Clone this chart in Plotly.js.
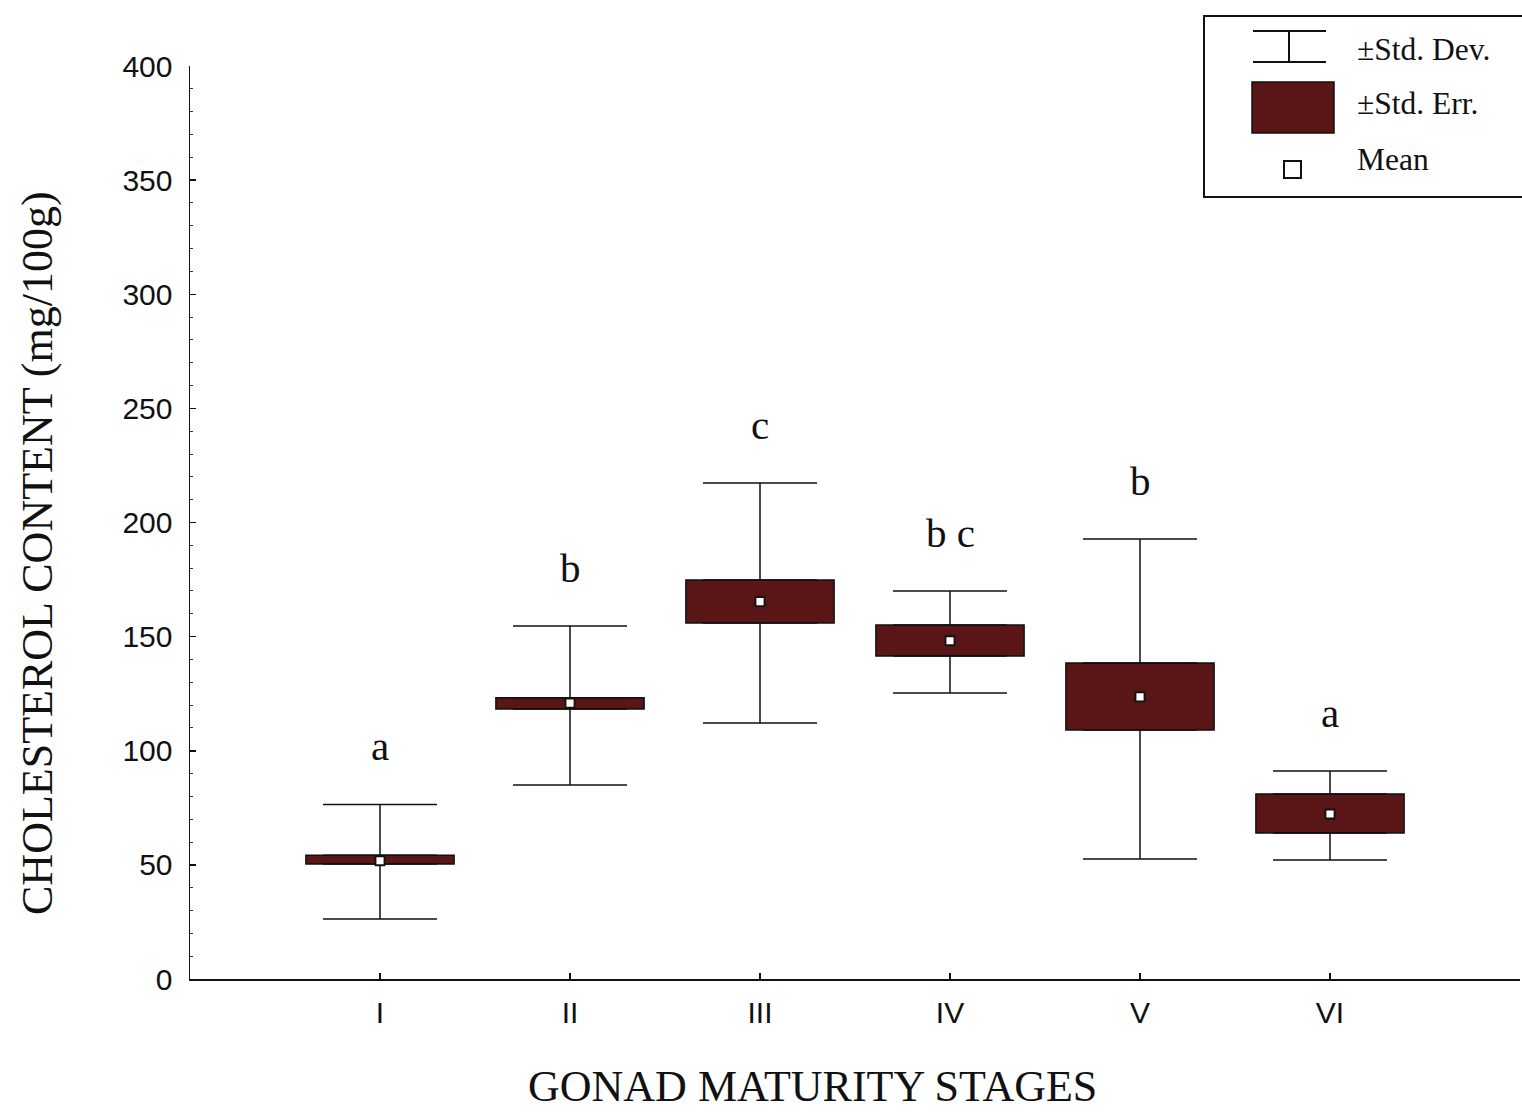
<!DOCTYPE html>
<html>
<head>
<meta charset="utf-8">
<script src="https://cdn.plot.ly/plotly-3.0.1.min.js"></script>
<style>
html,body{margin:0;padding:0;background:#fff;}
#chart{width:1522px;height:1112px;}
</style>
</head>
<body>
<div id="chart"></div>
<script>
// ---- data ----
var stages = ['I', 'II', 'III', 'IV', 'V', 'VI'];
var stagePos = [1, 2, 3, 4, 5, 6];
var means  = [51.8, 120.9, 165.3, 148.2, 123.6, 72.3];
var seLow  = [50.4, 118.3, 156.0, 141.5, 109.1, 64.0];
var seHigh = [54.2, 123.2, 174.8, 155.1, 138.4, 81.0];
var sdLow  = [26.3, 85.0, 112.2, 125.3, 52.6, 52.1];
var sdHigh = [76.5, 154.7, 217.3, 170.0, 192.8, 91.1];
var groupLetters = ['a', 'b', 'c', 'b c', 'b', 'a'];

var boxColor = '#5a1517';
var serif = 'Liberation Serif, Times New Roman, serif';
var sans = 'Liberation Sans, Arial, sans-serif';

var upperWhisker = {
  type: 'scatter', mode: 'markers', x: stagePos, y: seHigh,
  marker: {size: 1, opacity: 0}, hoverinfo: 'skip', showlegend: false,
  error_y: {type: 'data', symmetric: false,
    array: sdHigh.map(function(v, i){ return v - seHigh[i]; }),
    arrayminus: sdHigh.map(function(){ return 0; }),
    color: '#111', thickness: 1.5, width: 57}
};
var lowerWhisker = {
  type: 'scatter', mode: 'markers', x: stagePos, y: seLow,
  marker: {size: 1, opacity: 0}, hoverinfo: 'skip', showlegend: false,
  error_y: {type: 'data', symmetric: false,
    array: sdLow.map(function(){ return 0; }),
    arrayminus: sdLow.map(function(v, i){ return seLow[i] - v; }),
    color: '#111', thickness: 1.5, width: 57}
};
var seBoxes = {
  type: 'bar', x: stagePos, base: seLow,
  y: seHigh.map(function(v, i){ return v - seLow[i]; }),
  width: 0.78, marker: {color: boxColor, line: {color: '#111', width: 1.5}},
  hoverinfo: 'skip', showlegend: false
};
var meanPts = {
  type: 'scatter', mode: 'markers', x: stagePos, y: means,
  marker: {symbol: 'square', size: 9, color: '#fff', line: {color: '#111', width: 1.8}},
  showlegend: false
};

var annotations = [];
for (var i = 0; i < stages.length; i++) {
  annotations.push({
    x: stagePos[i], y: sdHigh[i], xref: 'x', yref: 'y',
    text: groupLetters[i], showarrow: false, yanchor: 'bottom', yshift: 33,
    font: {family: serif, size: 41, color: '#111'}
  });
}
// axis titles
annotations.push({
  xref: 'paper', yref: 'paper', x: 0.4684, y: -0.118, text: 'GONAD MATURITY STAGES',
  showarrow: false, xanchor: 'center', yanchor: 'middle',
  font: {family: serif, size: 44, color: '#111'}
});
annotations.push({
  xref: 'paper', yref: 'paper', x: -0.1143, y: 0.4666, text: 'CHOLESTEROL CONTENT (mg/100g)',
  showarrow: false, xanchor: 'center', yanchor: 'middle', textangle: -90,
  font: {family: serif, size: 44, color: '#111'}
});

// legend (drawn manually, paper coordinates)
function px(x){ return (x - 190) / 1330; }
function py(y){ return (979 - y) / 913; }
var legendItems = ['±Std. Dev.', '±Std. Err.', 'Mean'];
var legendY = [49, 104, 159];
for (var j = 0; j < legendItems.length; j++) {
  annotations.push({
    xref: 'paper', yref: 'paper', x: px(1355), y: py(legendY[j]), text: legendItems[j],
    showarrow: false, xanchor: 'left', yanchor: 'middle',
    font: {family: serif, size: 31.5, color: '#111'}
  });
}
var shapes = [
  {type: 'rect', xref: 'paper', yref: 'paper', x0: px(1204), x1: px(1524), y0: py(197), y1: py(16),
   line: {color: '#111', width: 2}, fillcolor: '#fff', layer: 'above'},
  {type: 'line', xref: 'paper', yref: 'paper', x0: px(1253), x1: px(1326), y0: py(31), y1: py(31), line: {color: '#111', width: 2}},
  {type: 'line', xref: 'paper', yref: 'paper', x0: px(1253), x1: px(1326), y0: py(62), y1: py(62), line: {color: '#111', width: 2}},
  {type: 'line', xref: 'paper', yref: 'paper', x0: px(1289), x1: px(1289), y0: py(31), y1: py(62), line: {color: '#111', width: 2}},
  {type: 'rect', xref: 'paper', yref: 'paper', x0: px(1252), x1: px(1334), y0: py(133), y1: py(82),
   line: {color: '#111', width: 1.5}, fillcolor: boxColor},
  {type: 'rect', xref: 'paper', yref: 'paper', x0: px(1284), x1: px(1301), y0: py(178), y1: py(161),
   line: {color: '#111', width: 2}, fillcolor: '#fff'}
];

var layout = {
  width: 1522, height: 1112,
  margin: {l: 190, r: 2, t: 66, b: 133},
  paper_bgcolor: '#fff', plot_bgcolor: '#fff',
  showlegend: false, barmode: 'overlay',
  xaxis: {
    range: [0, 7], tickmode: 'array', tickvals: stagePos.concat([7]), ticktext: stages.concat(['']),
    ticks: 'inside', ticklen: 6, tickwidth: 1.5, tickcolor: '#111',
    showline: true, linecolor: '#111', linewidth: 1.5, showgrid: false, zeroline: false,
    tickfont: {family: sans, size: 30, color: '#111'}, ticklabelstandoff: 6
  },
  yaxis: {
    range: [0, 400], tickmode: 'linear', tick0: 0, dtick: 50,
    ticks: 'inside', ticklen: 6, tickwidth: 1.5, tickcolor: '#111',
    minor: {dtick: 10, ticks: 'inside', ticklen: 3, tickwidth: 1, tickcolor: '#333', showgrid: false},
    showline: true, linecolor: '#111', linewidth: 1.5, showgrid: false, zeroline: false,
    tickfont: {family: sans, size: 30, color: '#111'}, ticklabelstandoff: 10
  },
  annotations: annotations,
  shapes: shapes
};

Plotly.newPlot('chart', [seBoxes, upperWhisker, lowerWhisker, meanPts], layout, {displayModeBar: false, staticPlot: true});
</script>
</body>
</html>
